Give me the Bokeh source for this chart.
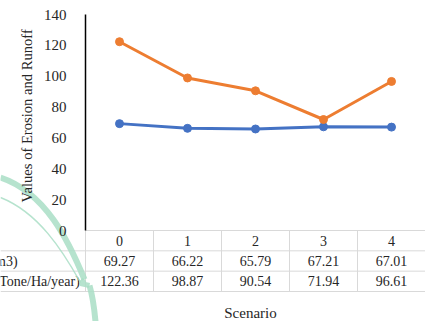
import math

from bokeh.plotting import figure
from bokeh.models import Range1d, Label, LinearAxis, FixedTicker, ColumnDataSource
from bokeh.embed import file_html
from bokeh.resources import INLINE

# Scenario results
scenarios = ["0", "1", "2", "3", "4"]
runoff = [69.27, 66.22, 65.79, 67.21, 67.01]
erosion = [122.36, 98.87, 90.54, 71.94, 96.61]
row_labels = ["Runoff (m3)", "Erosion (Tone/Ha/year)"]
y_ticks = [0, 20, 40, 60, 80, 100, 120, 140]

BLUE = "#4472C4"
ORANGE = "#ED7D31"
GRID = "#D9D9D9"
TEXT = "#262626"
MINT = "#A9DEC6"
FONT = "Liberation Serif"
FS = "14px"

# layout (screen pixels)
W, H = 425, 321
CAT_W = 68          # width of one scenario column
AXIS_X = 85         # screen x of the value axis
FRAME_TOP = 2
TOP = 14            # screen y of the top of the value axis
BASE = 230          # screen y of the value 0
TABLE_BOTTOM = 291  # screen y of the last table rule

y_top = y_ticks[-1]
ppu = (BASE - TOP) / y_top
y_min = -(H - BASE) / ppu
y_max = (BASE - FRAME_TOP) / ppu
row_h = (TABLE_BOTTOM - BASE) / 3 / ppu

n = len(scenarios)
x_start = -0.5 - AXIS_X / CAT_W
x_end = x_start + W / CAT_W


def sx(px):
    return x_start + px / CAT_W


def sy(py):
    return (BASE - py) / ppu


p = figure(width=W, height=H,
           x_range=Range1d(x_start, x_end), y_range=Range1d(y_min, y_max),
           output_backend="svg", toolbar_location=None,
           x_axis_type=None, y_axis_type=None,
           min_border_left=0, min_border_right=0,
           min_border_top=FRAME_TOP, min_border_bottom=0)
p.outline_line_color = None
p.background_fill_color = "white"
p.border_fill_color = "white"

# value axis drawn at the left edge of the chart area
yax = LinearAxis(ticker=FixedTicker(ticks=y_ticks), bounds=(0, y_top))
yax.fixed_location = -0.5
yax.axis_line_color = "black"
yax.axis_line_width = 1.5
yax.major_tick_line_color = None
yax.minor_tick_line_color = None
yax.major_label_standoff = 13
yax.major_label_text_font = FONT
yax.major_label_text_font_size = "15px"
yax.major_label_text_color = TEXT
p.add_layout(yax, "left")

xs = list(range(n))

# data table rules
h_y = [0, -row_h, -2 * row_h, -3 * row_h]
h_x0 = [-0.5, x_start, x_start, x_start]
p.segment(x0=h_x0, y0=h_y, x1=[x_end] * 4, y1=h_y, line_color=GRID, line_width=1)
v_x = [i - 0.5 for i in range(n + 1)]
p.segment(x0=v_x, y0=[0] * len(v_x), x1=v_x, y1=[-3 * row_h] * len(v_x),
          line_color=GRID, line_width=1)

# series
p.line(xs, runoff, line_color=BLUE, line_width=3)
p.scatter(xs, runoff, size=8, fill_color=BLUE, line_color=BLUE)
p.line(xs, erosion, line_color=ORANGE, line_width=3)
p.scatter(xs, erosion, size=8, fill_color=ORANGE, line_color=ORANGE)

# table contents
tsrc = ColumnDataSource(dict(
    x=xs * 3,
    y=[-0.5 * row_h] * n + [-1.5 * row_h] * n + [-2.5 * row_h] * n,
    t=scenarios + [f"{v:.2f}" for v in runoff] + [f"{v:.2f}" for v in erosion],
))
p.text(x="x", y="y", text="t", source=tsrc, text_align="center",
       text_baseline="middle", text_font={"value": FONT},
       text_font_size=FS, text_color=TEXT)

label_x = sx(-53)
p.text(x=[label_x, label_x], y=[-1.5 * row_h, -2.5 * row_h], text=row_labels,
       text_align="left", text_baseline="middle", text_font={"value": FONT},
       text_font_size=FS, text_color=TEXT)

# faint mint watermark strokes in the lower left
p.bezier(x0=[sx(0)], y0=[sy(177)], x1=[sx(84)], y1=[sy(279)],
         cx0=[sx(45)], cy0=[sy(192)], cx1=[sx(68)], cy1=[sy(240)],
         line_color=MINT, line_width=6, line_alpha=0.85)
p.line([sx(84), sx(80), sx(89)], [sy(279), sy(283), sy(285)],
       line_color=MINT, line_width=5, line_alpha=0.85)
p.bezier(x0=[sx(89)], y0=[sy(285)], x1=[sx(95)], y1=[sy(321)],
         cx0=[sx(92)], cy0=[sy(295)], cx1=[sx(94)], cy1=[sy(310)],
         line_color=MINT, line_width=6, line_alpha=0.85)
p.bezier(x0=[sx(0)], y0=[sy(197)], x1=[sx(80)], y1=[sy(282)],
         cx0=[sx(38)], cy0=[sy(212)], cx1=[sx(62)], cy1=[sy(250)],
         line_color=MINT, line_width=1.5, line_alpha=0.85)

# axis titles
p.add_layout(Label(x=sx(26), y=sy(113.5),
                   text="Values of Erosion and  Runoff", angle=math.pi / 2,
                   text_align="center", text_baseline="middle",
                   text_font=FONT, text_font_size="14.6px", text_color=TEXT))
p.text(x=[sx(250)], y=[sy(312)], text=["Scenario"],
       text_align="center", text_baseline="middle", text_font={"value": FONT},
       text_font_size="15px", text_color=TEXT)

open("out.html", "w").write(file_html(p, INLINE))
